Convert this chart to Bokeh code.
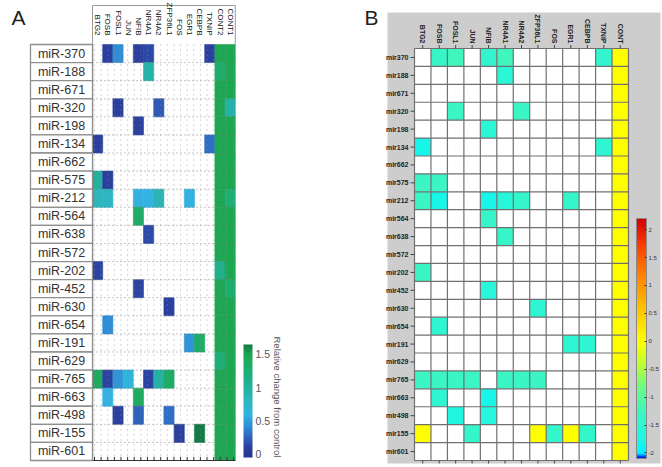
import numpy as np
from bokeh.plotting import figure
from bokeh.models import Range1d, ColumnDataSource, LinearColorMapper, ColorBar, FixedTicker
from bokeh.layouts import row
from bokeh.embed import file_html
from bokeh.resources import INLINE
from bokeh.core.properties import value

# ---------------- data: panel A ----------------
mirs_a = ["miR-370", "miR-188", "miR-671", "miR-320", "miR-198", "miR-134", "miR-662",
          "miR-575", "miR-212", "miR-564", "miR-638", "miR-572", "miR-202", "miR-452",
          "miR-630", "miR-654", "miR-191", "miR-629", "miR-765", "miR-663", "miR-498",
          "miR-155", "miR-601"]
genes_a = ["BTG2", "FOSB", "FOSL1", "JUN", "NFIB", "NR4A1", "NR4A2", "ZFP36L1", "FOS",
           "EGR1", "CEBPB", "TXNIP", "CONT2", "CONT1"]

a_mir = ["miR-370", "miR-370", "miR-370", "miR-370", "miR-370",
         "miR-188",
         "miR-320", "miR-320",
         "miR-198",
         "miR-134", "miR-134",
         "miR-575", "miR-575",
         "miR-212", "miR-212", "miR-212", "miR-212", "miR-212", "miR-212",
         "miR-564",
         "miR-638",
         "miR-202",
         "miR-452",
         "miR-630",
         "miR-654",
         "miR-191", "miR-191",
         "miR-765", "miR-765", "miR-765", "miR-765", "miR-765", "miR-765", "miR-765",
         "miR-663", "miR-663",
         "miR-498", "miR-498", "miR-498",
         "miR-155", "miR-155"]
a_gene = ["FOSB", "FOSL1", "NFIB", "NR4A1", "TXNIP",
          "NR4A1",
          "FOSL1", "NR4A2",
          "NFIB",
          "BTG2", "TXNIP",
          "BTG2", "FOSB",
          "BTG2", "FOSB", "NFIB", "NR4A1", "NR4A2", "EGR1",
          "NFIB",
          "NR4A1",
          "BTG2",
          "NFIB",
          "ZFP36L1",
          "FOSB",
          "EGR1", "CEBPB",
          "BTG2", "FOSB", "FOSL1", "JUN", "NR4A1", "NR4A2", "ZFP36L1",
          "FOSB", "NFIB",
          "FOSL1", "NFIB", "ZFP36L1",
          "FOS", "CEBPB"]
a_val = [0.10, 0.42, 0.10, 0.14, 0.10,
         0.95,
         0.10, 0.22,
         0.10,
         0.10, 0.30,
         1.00, 0.10,
         0.80, 0.78, 0.60, 0.60, 0.85, 0.60,
         1.35,
         0.15,
         0.12,
         0.12,
         0.10,
         0.42,
         0.45, 1.35,
         1.40, 0.12, 0.45, 0.65, 0.12, 0.95, 1.35,
         0.60, 1.40,
         0.10, 0.25, 0.30,
         0.10, 1.65]
a_cont2 = [1.5, 1.3, 1.5, 1.5, 1.5, 1.5, 1.5, 1.5, 1.5, 1.5, 1.5, 1.5, 1.1, 1.5,
           1.5, 1.5, 1.5, 1.25, 1.5, 1.5, 1.5, 1.5, 1.5]
a_cont1 = [1.5, 1.5, 1.5, 0.95, 1.5, 1.5, 1.5, 1.5, 1.25, 1.5, 1.5, 1.5, 1.5, 1.3,
           1.5, 1.5, 1.5, 1.5, 1.5, 1.5, 1.5, 1.5, 1.5]
a_ticks = [0, 0.5, 1, 1.5]

# ---------------- data: panel B ----------------
mirs_b = ["mir370", "mir188", "mir671", "mir320", "mir198", "mir134", "mir662",
          "mir575", "mir212", "mir564", "mir638", "mir572", "mir202", "mir452",
          "mir630", "mir654", "mir191", "mir629", "mir765", "mir663", "mir498",
          "mir155", "mir601"]
genes_b = ["BTG2", "FOSB", "FOSL1", "JUN", "NFIB", "NR4A1", "NR4A2", "ZFP36L1", "FOS",
           "EGR1", "CEBPB", "TXNIP", "CONT"]

b_mir = ["mir370", "mir370", "mir370", "mir370", "mir370",
         "mir188",
         "mir320", "mir320",
         "mir198",
         "mir134", "mir134",
         "mir575", "mir575",
         "mir212", "mir212", "mir212", "mir212", "mir212", "mir212",
         "mir564",
         "mir638",
         "mir202",
         "mir452",
         "mir630",
         "mir654",
         "mir191", "mir191",
         "mir765", "mir765", "mir765", "mir765", "mir765", "mir765", "mir765",
         "mir663", "mir663",
         "mir498", "mir498",
         "mir155", "mir155", "mir155", "mir155", "mir155", "mir155"]
b_gene = ["FOSB", "FOSL1", "NFIB", "NR4A1", "TXNIP",
          "NR4A1",
          "FOSL1", "NR4A2",
          "NFIB",
          "BTG2", "TXNIP",
          "BTG2", "FOSB",
          "BTG2", "FOSB", "NFIB", "NR4A1", "NR4A2", "EGR1",
          "NFIB",
          "NR4A1",
          "BTG2",
          "NFIB",
          "ZFP36L1",
          "FOSB",
          "EGR1", "CEBPB",
          "BTG2", "FOSB", "FOSL1", "JUN", "NR4A1", "NR4A2", "ZFP36L1",
          "FOSB", "NFIB",
          "FOSL1", "NFIB",
          "BTG2", "JUN", "ZFP36L1", "FOS", "EGR1", "CEBPB"]
b_val = [-1.35, -1.25, -1.45, -1.25, -1.45,
         -1.55,
         -1.3, -1.3,
         -1.55,
         -1.8, -1.5,
         -1.3, -1.3,
         -1.3, -1.8, -1.8, -1.6, -1.4, -1.4,
         -1.35,
         -1.35,
         -1.3,
         -1.6,
         -1.5,
         -1.5,
         -1.5, -1.5,
         -1.3, -1.3, -1.3, -1.3, -1.3, -1.3, -1.3,
         -1.5, -1.8,
         -1.7, -1.65,
         0.0, -1.4, 0.0, -1.4, 0.0, -1.4]
b_cont = [0.0, 0.0, 0.0, 0.0, 0.0, 0.0, 0.0, 0.0, 0.0, 0.0, 0.0, 0.0, 0.0, 0.0,
          0.0, 0.0, 0.0, 0.0, 0.0, 0.0, 0.0, 0.0, 0.0]
b_ticks = [-2, -1.5, -1, -0.5, 0, 0.5, 1, 1.5, 2]
b_tick_labels = ["-2", "-1.5", "-1", "-0.5", "0", "0.5", "1", "1.5", "2"]


def build_palette(stops, lo, hi, n=256):
    vs = np.linspace(lo, hi, n)
    sv = [s[0] for s in stops]
    rgb = np.array([[int(c[i:i + 2], 16) for i in (1, 3, 5)] for _, c in stops], float)
    out = []
    for v in vs:
        r, g, b = (int(round(np.interp(v, sv, rgb[:, k]))) for k in range(3))
        out.append("#%02x%02x%02x" % (r, g, b))
    return out


FONT = value("Liberation Sans")
H = 466

# ================= Panel A =================
WA = 310
CWA = 10.2
LEFTA, TOPA, BOTA = 92.0, 44.0, 460.0
RHA = (BOTA - TOPA) / len(mirs_a)
XA0 = -0.5 - LEFTA / CWA
YA0 = -0.5 - TOPA / RHA


def fxa(px):
    return XA0 + px / CWA


def fya(py):
    return YA0 + py / RHA


pA = figure(width=WA, height=H, output_backend="svg", toolbar_location=None,
            x_range=Range1d(XA0, XA0 + WA / CWA), y_range=Range1d(YA0 + H / RHA, YA0),
            min_border=0)
pA.axis.visible = False
pA.grid.visible = False
pA.outline_line_color = None

lo_a, hi_a = -0.05, 1.65
pal_a = build_palette([(-0.05, "#283590"), (0.1, "#2b3f9e"), (0.25, "#2f62bd"),
                       (0.42, "#2f8fd6"), (0.6, "#33b4e2"), (0.8, "#2cb6bf"),
                       (1.0, "#22b19e"), (1.2, "#1fb07c"), (1.4, "#1fab5e"),
                       (1.5, "#1ea853"), (1.65, "#137a45")], lo_a, hi_a)
map_a = LinearColorMapper(palette=pal_a, low=lo_a, high=hi_a)

n_a = len(mirs_a)
src_a = ColumnDataSource(dict(
    x=[genes_a.index(g) for g in a_gene] + [genes_a.index("CONT2")] * n_a + [genes_a.index("CONT1")] * n_a,
    y=[mirs_a.index(m) for m in a_mir] + list(range(n_a)) + list(range(n_a)),
    v=a_val + a_cont2 + a_cont1))
pA.rect(x="x", y="y", width=1, height=1, source=src_a,
        fill_color={"field": "v", "transform": map_a},
        line_color={"field": "v", "transform": map_a}, line_width=0.6)

ncol_a = len(genes_a)
# dotted grid
xs_h = [[-0.5, ncol_a - 0.5] for i in range(n_a - 1)]
ys_h = [[i + 0.5, i + 0.5] for i in range(n_a - 1)]
pA.multi_line(xs=xs_h, ys=ys_h, line_color="#6f6f6f", line_alpha=0.8, line_width=1, line_dash="1 3")
vx = np.linspace(fxa(94), fxa(233), 22)
pA.multi_line(xs=[[x, x] for x in vx], ys=[[-0.5, n_a - 0.5] for _ in vx],
              line_color="#8a8a8a", line_alpha=0.7, line_width=1, line_dash="1 4")
# axes lines
pA.segment(x0=[-0.5, -0.5], y0=[-0.5, n_a - 0.5], x1=[-0.5, ncol_a - 0.5], y1=[n_a - 0.5, n_a - 0.5],
           line_color="#333333", line_width=1.2)
pA.segment(x0=list(vx), y0=[n_a - 0.5] * len(vx), x1=list(vx), y1=[n_a - 0.5 - 0.2] * len(vx),
           line_color="#333333", line_width=1)
# header box
pA.segment(x0=[-0.5, -0.5, ncol_a - 0.5], y0=[fya(5), fya(5), fya(5)],
           x1=[ncol_a - 0.5, -0.5, ncol_a - 0.5], y1=[fya(5), -0.5, -0.5],
           line_color="#9a9a9a", line_width=1)
pA.text(x=list(range(ncol_a)), y=[fya(35)] * ncol_a, text=genes_a, angle=-np.pi / 2,
        text_align="right", text_baseline="middle", text_font=FONT,
        text_font_size="8px", text_color="#111111")
# row label boxes
bx = fxa(61)
bw = (92 - 30) / CWA
pA.rect(x=[bx] * n_a, y=list(range(n_a)), width=bw, height=1, fill_color="white",
        line_color="#8f8f8f", line_width=1.3)
pA.text(x=[bx] * n_a, y=list(range(n_a)), text=mirs_a, text_align="center",
        text_baseline="middle", text_font=FONT, text_font_size="12.5px", text_color="#333333")
pA.text(x=[fxa(11)], y=[fya(5)], text=["A"], text_align="left", text_baseline="top",
        text_font=FONT, text_font_size="21px", text_color="#222222")

cb_a = ColorBar(color_mapper=map_a, ticker=FixedTicker(ticks=a_ticks),
                major_label_overrides={0: "0", 0.5: "0.5", 1: "1", 1.5: "1.5"},
                location=(243, 9), width=9, height=113, padding=0, margin=0,
                label_standoff=3, background_fill_alpha=0, border_line_color=None,
                major_tick_line_color=None, bar_line_color=None,
                major_label_text_font_size="10.5px", major_label_text_color="#555555",
                major_label_text_font="Liberation Sans")
pA.add_layout(cb_a)
pA.text(x=[fxa(277)], y=[fya(336)], text=["Relative change from control"], angle=-np.pi / 2,
        text_align="left", text_baseline="middle", text_font=FONT,
        text_font_size="9.5px", text_color="#555555")

# ================= Panel B =================
WB = 352
CWB = (628.0 - 414.0) / len(genes_b)
LEFTB, TOPB, BOTB = 414.0 - WA, 48.0, 460.0
RHB = (BOTB - TOPB) / len(mirs_b)
XB0 = -0.5 - LEFTB / CWB
YB0 = -0.5 - TOPB / RHB


def fxb(px):
    return XB0 + px / CWB


def fyb(py):
    return YB0 + py / RHB


pB = figure(width=WB, height=H, output_backend="svg", toolbar_location=None,
            x_range=Range1d(XB0, XB0 + WB / CWB), y_range=Range1d(YB0 + H / RHB, YB0),
            min_border=0)
pB.axis.visible = False
pB.grid.visible = False
pB.outline_line_color = None

lo_b, hi_b = -2.1, 2.2
pal_b = build_palette([(-2.1, "#0000ff"), (-2.02, "#00f4ff"), (-1.75, "#1ff6e4"),
                       (-1.3, "#3cf5c3"), (-0.8, "#70fb80"), (-0.4, "#c0ff30"),
                       (0.0, "#ffff00"), (0.6, "#ffc000"), (1.2, "#ff8000"),
                       (1.7, "#ff4000"), (2.2, "#d40000")], lo_b, hi_b)
map_b = LinearColorMapper(palette=pal_b, low=lo_b, high=hi_b)

n_b = len(mirs_b)
ncol_b = len(genes_b)
pB.quad(left=[fxb(387 - WA)], right=[fxb(660 - WA)], top=[fyb(12)], bottom=[fyb(463)],
        fill_color="#cdcdcd", line_color=None)
pB.quad(left=[-0.5], right=[ncol_b - 0.5], top=[-0.5], bottom=[n_b - 0.5],
        fill_color="white", line_color=None)
src_b = ColumnDataSource(dict(
    x=[genes_b.index(g) for g in b_gene] + [genes_b.index("CONT")] * n_b,
    y=[mirs_b.index(m) for m in b_mir] + list(range(n_b)),
    v=b_val + b_cont))
pB.rect(x="x", y="y", width=1, height=1, source=src_b,
        fill_color={"field": "v", "transform": map_b}, line_color=None)
# grid lines
gx = [i - 0.5 for i in range(ncol_b + 1)]
gy = [i - 0.5 for i in range(n_b + 1)]
pB.multi_line(xs=[[x, x] for x in gx], ys=[[-0.5, n_b - 0.5] for _ in gx],
              line_color="#707070", line_width=1.2)
pB.multi_line(xs=[[-0.5, ncol_b - 0.5] for _ in gy], ys=[[y, y] for y in gy],
              line_color="#707070", line_width=1.2)
# ticks
pB.segment(x0=[fxb(410 - WA)] * n_b, y0=list(range(n_b)), x1=[-0.5] * n_b, y1=list(range(n_b)),
           line_color="#444444", line_width=1)
pB.segment(x0=list(range(ncol_b)), y0=[fyb(44.5)] * ncol_b, x1=list(range(ncol_b)),
           y1=[-0.5] * ncol_b, line_color="#444444", line_width=1)
pB.segment(x0=list(range(ncol_b)), y0=[n_b - 0.5] * ncol_b, x1=list(range(ncol_b)),
           y1=[fyb(463)] * ncol_b, line_color="#444444", line_width=1)
pB.text(x=[fxb(408 - WA)] * n_b, y=list(range(n_b)), text=mirs_b, text_align="right",
        text_baseline="middle", text_font=FONT, text_font_style="bold",
        text_font_size="7px", text_color="#222222")
pB.text(x=list(range(ncol_b)), y=[fyb(43)] * ncol_b, text=genes_b, angle=-np.pi / 2,
        text_align="right", text_baseline="middle", text_font=FONT, text_font_style="bold",
        text_font_size="7px", text_color="#222222")
pB.text(x=[fxb(364 - WA)], y=[fyb(5)], text=["B"], text_align="left", text_baseline="top",
        text_font=FONT, text_font_size="21px", text_color="#222222")

cb_b = ColorBar(color_mapper=map_b, ticker=FixedTicker(ticks=b_ticks),
                major_label_overrides=dict(zip(b_ticks, b_tick_labels)),
                location=(636 - WA, H - 458), width=10, height=240, padding=0, margin=0,
                label_standoff=2, background_fill_alpha=0, border_line_color=None,
                major_tick_line_color="#333333", major_tick_in=2, major_tick_out=0,
                bar_line_color="#888888",
                major_label_text_font_size="6px", major_label_text_color="#333333",
                major_label_text_font="Liberation Sans")
pB.add_layout(cb_b)

layout = row(pA, pB)
open("out.html", "w").write(file_html(layout, INLINE))
